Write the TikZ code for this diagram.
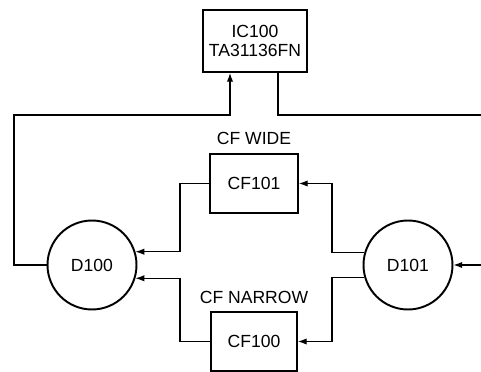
\documentclass[tikz,border=0pt]{standalone}
\usepackage{fontspec}
\setmainfont{Liberation Sans}
\usetikzlibrary{arrows.meta,calc}
\begin{document}
\begin{tikzpicture}[x=0.02cm,y=-0.02cm,
  font=\fontsize{10}{12}\selectfont,
  box/.style={draw,line width=1.1pt,rectangle,inner sep=0pt},
  disc/.style={draw,line width=1.1pt,circle,inner sep=0pt,minimum size=1.78cm},
  conn/.style={line width=0.6pt},
  arr/.style={conn,-{Latex[length=5pt,width=3.6pt]}},
  lbl/.style={inner sep=0pt}]
\useasboundingbox (0,0) rectangle (481,372);
\node[box,minimum width=2.08cm,minimum height=1.24cm,align=center] (ic) at (255,41) {IC100\\[-1pt]TA31136FN};
\node[box,minimum width=1.76cm,minimum height=1.18cm] (cf101) at (254,183.5) {CF101};
\node[box,minimum width=1.72cm,minimum height=1.18cm] (cf100) at (254,341.5) {CF100};
\node[lbl] (wide) at (254,138) {CF WIDE};
\node[lbl] (narrow) at (254,297) {CF NARROW};
\node[disc] (d100) at (92,265) {D100};
\node[disc] (d101) at (408,265) {D101};
\coordinate (jl) at (180,0);
\coordinate (jr) at (332,0);
\coordinate (outR) at (481,115);
\coordinate (inR) at (481,265);
% D100 -> IC100
\draw[arr] (d100.west) -| (14,115) -| ($(ic.south)+(-25,0)$);
% IC100 -> right
\draw[conn] ($(ic.south)+(23,0)$) |- (outR);
% CF to D100
\draw[arr] (cf101.west) -- (jl |- cf101.west) |- (d100.17);
\draw[arr] (cf100.west) -- (jl |- cf100.west) |- (d100.-17);
% D101 to CF
\draw[arr] (d101.164) -| (jr |- cf101.east) -- (cf101.east);
\draw[arr] (d101.196) -| (jr |- cf100.east) -- (cf100.east);
% input
\draw[arr] (inR) -- (d101.east);
\end{tikzpicture}
\end{document}
